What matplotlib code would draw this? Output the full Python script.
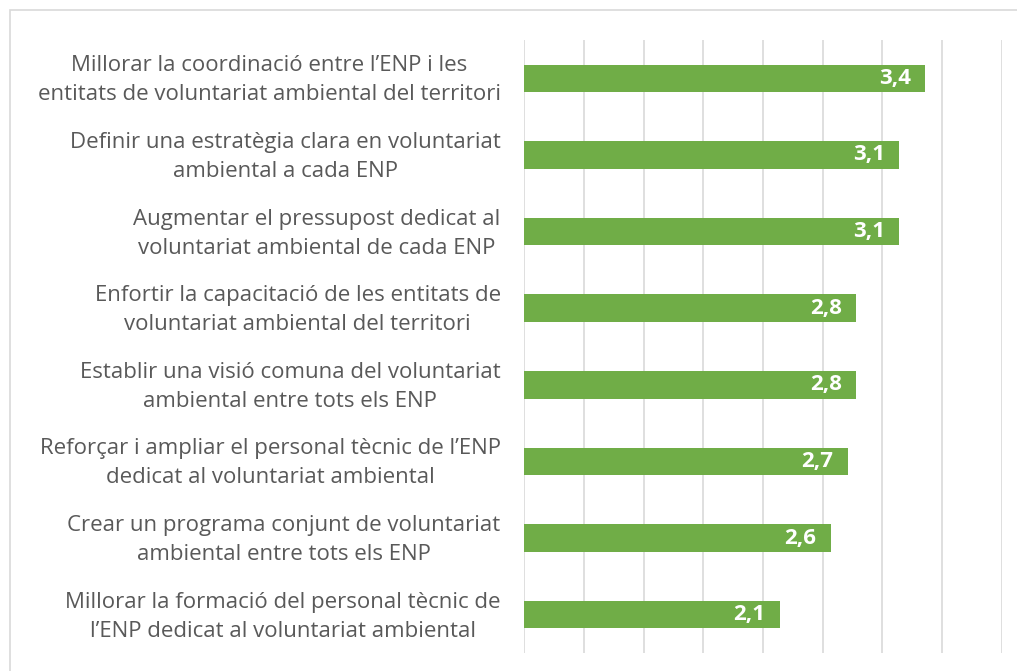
import matplotlib.pyplot as plt
from matplotlib.patches import Rectangle
from matplotlib.transforms import ScaledTranslation

labels = [
    "Millorar la coordinació entre l’ENP i les\nentitats de voluntariat ambiental del territori",
    "Definir una estratègia clara en voluntariat\nambiental a cada ENP",
    "Augmentar el pressupost dedicat al\nvoluntariat ambiental de cada ENP",
    "Enfortir la capacitació de les entitats de\nvoluntariat ambiental del territori",
    "Establir una visió comuna del voluntariat\nambiental entre tots els ENP",
    "Reforçar i ampliar el personal tècnic de l’ENP\ndedicat al voluntariat ambiental",
    "Crear un programa conjunt de voluntariat\nambiental entre tots els ENP",
    "Millorar la formació del personal tècnic de\nl’ENP dedicat al voluntariat ambiental",
]
values = [3.36, 3.14, 3.14, 2.78, 2.78, 2.71, 2.57, 2.14]

plt.rcParams['font.family'] = ['Open Sans', 'DejaVu Sans']

fig = plt.figure(figsize=(10.17, 6.71), dpi=100)
fig.patches.append(Rectangle((10 / 1017, -0.1), 1.2, 1.1 - 10 / 671,
                             transform=fig.transFigure, fill=False,
                             edgecolor='#d9d9d9', linewidth=1.2))
ax = fig.add_axes([0.5155, 0.0268, 0.4694, 0.9136])

pos = list(range(len(values)))
bars = ax.barh(pos, values, height=0.36, color='#70ad47', zorder=3)
ax.set_xlim(0, 4)
ax.set_ylim(len(values) - 0.5, -0.5)
ax.set_xticks([i * 0.5 for i in range(9)])
ax.grid(axis='x', color='#d9d9d9', linewidth=1.2, zorder=0)
ax.tick_params(axis='x', length=0, labelbottom=False)
ax.tick_params(axis='y', length=0, pad=17)
ax.set_yticks(pos)
ax.set_yticklabels(labels, fontsize=16, color='#595959',
                   multialignment='center', linespacing=1.5)
# nudge labels up a bit so both lines sit centred on the bar
shift = ScaledTranslation(0, 0.045, fig.dpi_scale_trans)
for lbl in ax.get_yticklabels():
    lbl.set_transform(lbl.get_transform() + shift)
for s in ax.spines.values():
    s.set_visible(False)

for b, v in zip(bars, values):
    ax.text(v - 0.12, b.get_y() + b.get_height() / 2,
            f"{v:.1f}".replace('.', ','), ha='right', va='center',
            color='white', fontsize=16, fontweight='bold', zorder=4)

fig.savefig('out.png', dpi=100)
